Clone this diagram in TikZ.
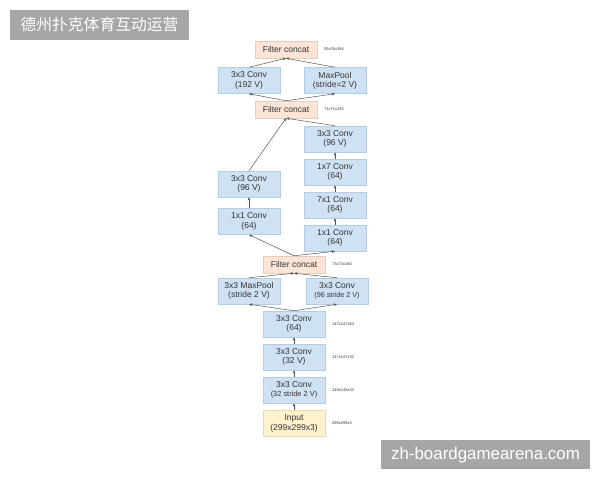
\documentclass[tikz,border=0pt]{standalone}
\usepackage{fontspec}
\setmainfont{Liberation Sans}
\newfontfamily\cjk{Noto Sans CJK SC}
\usetikzlibrary{arrows.meta}
\definecolor{boxfill}{HTML}{CFE2F3}
\definecolor{boxline}{HTML}{B4CDE4}
\definecolor{concatfill}{HTML}{FCE5D6}
\definecolor{concatline}{HTML}{E6CDBB}
\definecolor{inputfill}{HTML}{FFF2CC}
\definecolor{inputline}{HTML}{E8D9AE}
\definecolor{txt}{HTML}{333333}
\definecolor{linecol}{HTML}{555555}
\definecolor{banner}{HTML}{A6A6A6}
\tikzset{
  box/.style={draw=boxline, fill=boxfill, line width=0.5pt, minimum width=62pt, minimum height=26pt, inner sep=0pt, align=center, text=txt, font=\fontsize{8.5}{9.4}\selectfont},
  concat/.style={box, draw=concatline, fill=concatfill, minimum height=17pt},
  inbox/.style={box, draw=inputline, fill=inputfill},
  dim/.style={anchor=west, inner sep=0pt, text=txt, font=\fontsize{4}{5}\selectfont},
  arr/.style={-{Stealth[length=3.4pt,width=2.8pt]}, draw=linecol, line width=0.5pt},
  bannerbox/.style={fill=banner, text=white, inner sep=0pt}
}
\begin{document}
\begin{tikzpicture}[x=1pt,y=-1pt]
\useasboundingbox (0,0) rectangle (600,480);
% banners
\node[bannerbox, minimum width=179pt, minimum height=29.5pt, font=\cjk\fontsize{15.8}{18}\selectfont] (title) at (99.5,24.8) {德州扑克体育互动运营};
\node[bannerbox, minimum width=209pt, minimum height=29.5pt, font=\fontsize{16.9}{19}\selectfont] (wm) at (485.5,454.7) {zh-boardgamearena.com};
% nodes
\node[concat] (c3) at (286,49.5) {Filter concat};
\node[box] (cv192) at (249,80.5) {3x3 Conv\\(192 V)};
\node[box] (mp) at (335,80.5) {MaxPool\\(stride=2 V)};
\node[concat] (c2) at (286,109.5) {Filter concat};
\node[box] (r96) at (335,139) {3x3 Conv\\(96 V)};
\node[box] (r17) at (335,172) {1x7 Conv\\(64)};
\node[box] (r71) at (335,205) {7x1 Conv\\(64)};
\node[box] (r11) at (335,238) {1x1 Conv\\(64)};
\node[box] (l96) at (249,184) {3x3 Conv\\(96 V)};
\node[box] (l11) at (249,221.5) {1x1 Conv\\(64)};
\node[concat] (c1) at (294,264.5) {Filter concat};
\node[box] (mp2) at (249,291) {3x3 MaxPool\\(stride 2 V)};
\node[box] (cs2) at (337,291) {3x3 Conv\\{\fontsize{7.2}{9.4}\selectfont(96 stride 2 V)}};
\node[box] (cv64) at (294,324) {3x3 Conv\\(64)};
\node[box] (cv32) at (294,357) {3x3 Conv\\(32 V)};
\node[box] (cv32s) at (294,390) {3x3 Conv\\{\fontsize{7.4}{9.4}\selectfont(32 stride 2 V)}};
\node[inbox] (inp) at (294,423.5) {Input\\(299x299x3)};
% dimension labels
\node[dim] (d1) at (324,49) {35x35x384};
\node[dim] (d2) at (324,109.5) {71x71x192};
\node[dim] (d3) at (332,264.5) {73x73x160};
\node[dim] (d4) at (332,324) {147x147x64};
\node[dim] (d5) at (332,357) {147x147x32};
\node[dim] (d6) at (332,390) {149x149x32};
\node[dim] (d7) at (332,423.5) {299x299x3};
% connectors
\draw[arr] (cv192.north) -- (c3.south);
\draw[arr] (mp.north) -- (c3.south);
\draw[arr] (c2.north) -- (cv192.south);
\draw[arr] (c2.north) -- (mp.south);
\draw[arr] (l96.north) -- (c2.south);
\draw[arr] (r96.north) -- (c2.south);
\draw[arr] (r17) -- (r96);
\draw[arr] (r71) -- (r17);
\draw[arr] (r11) -- (r71);
\draw[arr] (l11) -- (l96);
\draw[arr] (c1.north) -- (l11.south);
\draw[arr] (c1.north) -- (r11.south);
\draw[arr] (mp2.north) -- (c1.south);
\draw[arr] (cs2.north) -- (c1.south);
\draw[arr] (cv64.north) -- (mp2.south);
\draw[arr] (cv64.north) -- (cs2.south);
\draw[arr] (cv32) -- (cv64);
\draw[arr] (cv32s) -- (cv32);
\draw[arr] (inp) -- (cv32s);
\end{tikzpicture}
\end{document}
